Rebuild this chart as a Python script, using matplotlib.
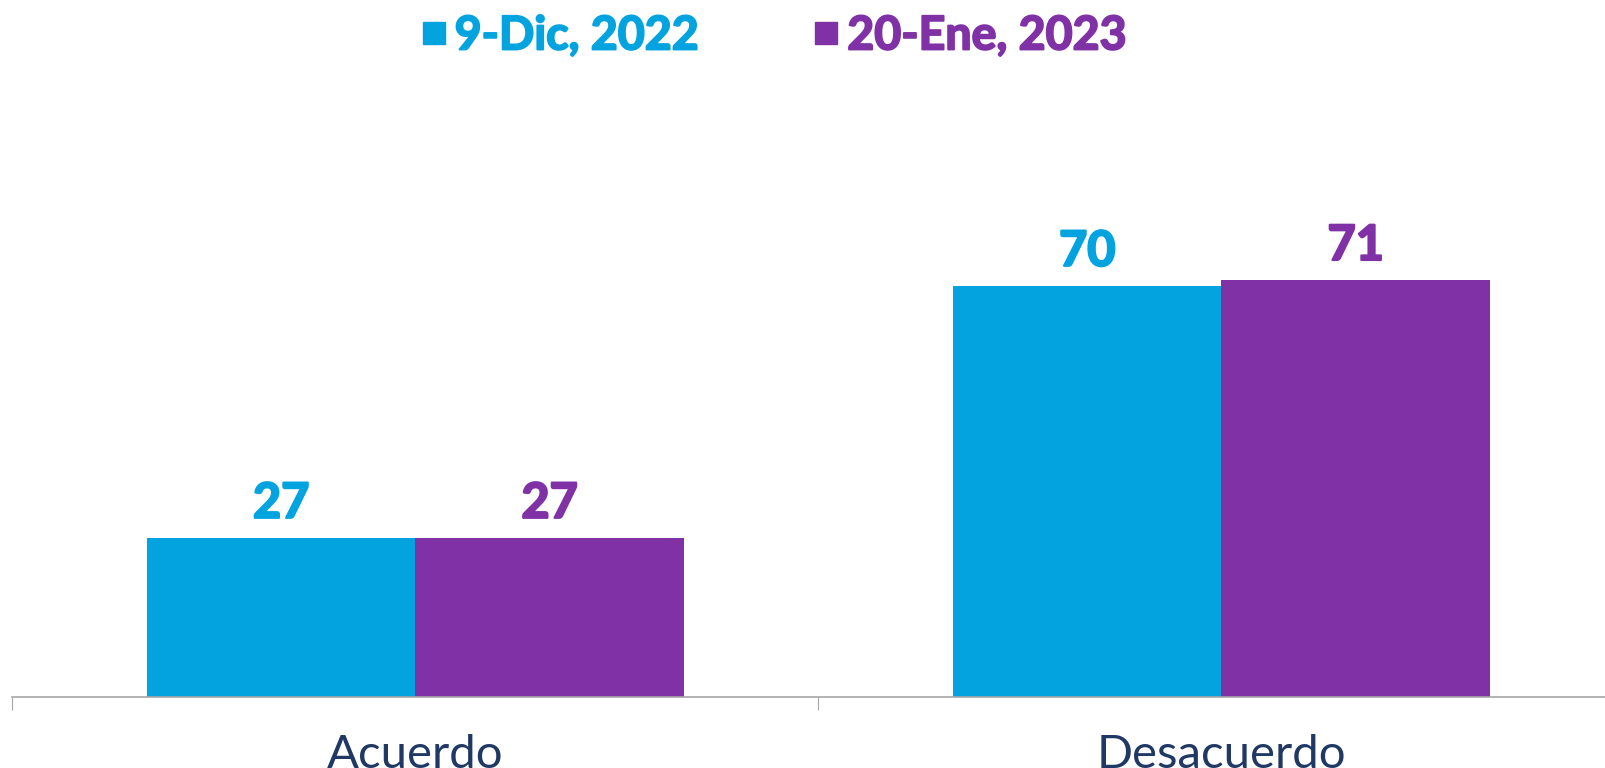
import matplotlib
matplotlib.use("Agg")
import matplotlib.pyplot as plt
import matplotlib.patheffects as pe
from matplotlib.lines import Line2D
import numpy as np

categories = ["Acuerdo", "Desacuerdo"]
series_names = ["9-Dic, 2022", "20-Ene, 2023"]
dic_2022 = [27, 70]
ene_2023 = [27, 71]
colors = ["#03A3E0", "#7F31A5"]

fig = plt.figure(figsize=(16.06, 7.68), dpi=100)
ax = fig.add_axes([12.3 / 1606, (768 - 696.5) / 768, 1 - 12.3 / 1606, 696.5 / 768])

x = np.arange(len(categories))
w = 0.333
b1 = ax.bar(x - w / 2, dic_2022, width=w, color=colors[0])
b2 = ax.bar(x + w / 2, ene_2023, width=w, color=colors[1])

for bars, c in zip([b1, b2], colors):
    labels = ax.bar_label(bars, padding=9, color=c, fontsize=35, fontweight="bold",
                          family=["Lato", "DejaVu Sans"])
    for t in labels:
        t.set_path_effects([pe.withStroke(linewidth=1.6, foreground=c)])

for s in ["top", "right", "left"]:
    ax.spines[s].set_visible(False)
ax.spines["bottom"].set_color("#A6A6A6")
ax.spines["bottom"].set_linewidth(1.2)
ax.set_yticks([])

ax.set_xticks(x)
ax.set_xticklabels(categories, fontsize=34, color="#1F3864",
                   family=["Lato", "DejaVu Sans"], fontweight="normal")
ax.tick_params(axis="x", which="major", length=0, pad=27)
ax.set_xticks([-0.5, 0.5, 1.5], minor=True)
ax.tick_params(axis="x", which="minor", length=9, width=0.8, color="#A6A6A6", direction="out")

ax.set_xlim(-0.5, 1.477)
ax.set_ylim(0, 696.5 / 5.86)

handles = [Line2D([], [], marker="s", linestyle="none", markersize=16.5,
                  markerfacecolor=c, markeredgecolor=c) for c in colors]
leg = fig.legend(handles, series_names, loc="upper center", ncol=2,
                 bbox_to_anchor=(0.482, 1.037), frameon=False,
                 prop={"family": ["Lato", "DejaVu Sans"], "weight": "bold", "size": 33.5},
                 handlelength=0.5, handletextpad=0.2, columnspacing=2.5)
for t, c in zip(leg.get_texts(), colors):
    t.set_color(c)
    t.set_path_effects([pe.withStroke(linewidth=1.4, foreground=c)])

fig.savefig("out.png", dpi=100)
